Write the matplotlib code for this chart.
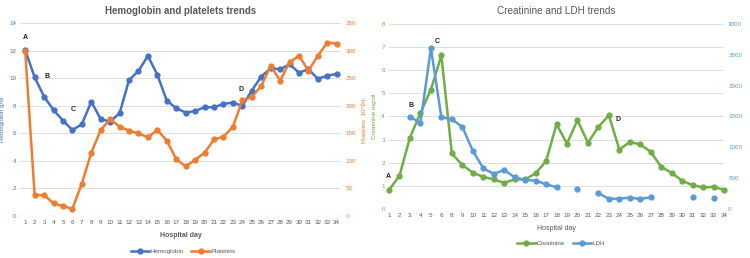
import numpy as np
import matplotlib
matplotlib.use("Agg")
import matplotlib.pyplot as plt
from matplotlib.lines import Line2D

plt.rcParams['font.family'] = ['Liberation Sans', 'DejaVu Sans']

# left chart: hemoglobin / platelets
days_left = [str(d) for d in range(1, 35)]
hemoglobin = [12.05, 10.08, 8.67, 7.7, 6.93, 6.25, 6.66, 8.31, 7.03, 6.86,
              7.46, 9.88, 10.54, 11.63, 10.25, 8.38, 7.83, 7.51, 7.63, 7.9,
              7.9, 8.14, 8.24, 8.0, 9.11, 10.13, 10.73, 10.66, 11.02, 10.41,
              10.66, 9.96, 10.2, 10.32]
platelets = [300, 38, 38, 23, 18, 13, 59, 115, 156, 176,
             162, 155, 150, 143, 156, 137, 103, 90, 102, 115,
             139, 144, 162, 210, 216, 236, 273, 246, 279, 291,
             264, 291, 315, 313]

# right chart: creatinine / LDH (no day 7 on this axis)
days_right = [str(d) for d in range(1, 35) if d != 7]
creatinine = [0.82, 1.44, 3.09, 4.15, 5.16, 6.64, 2.4, 1.9, 1.57, 1.39,
              1.28, 1.13, 1.28, 1.28, 1.54, 2.07, 3.66, 2.83, 3.84, 2.86,
              3.55, 4.05, 2.57, 2.9, 2.79, 2.47, 1.82, 1.56, 1.22, 1.03,
              0.93, 0.96, 0.82]
nan = np.nan
ldh = [nan, nan, 1498, 1391, 2608, 1488, 1456, 1330, 946, 660,
       568, 633, 514, 471, 460, 400, 352, nan, 319, nan,
       254, 167, 167, 184, 162, 190, nan, nan, nan, 200,
       nan, 178, nan]

c_hgb = '#4472C4'
c_plt = '#ED7D31'
c_cre = '#70AD47'
c_ldh = '#5B9BD5'
grid_c = '#D9D9D9'
txt_c = '#595959'

fig = plt.figure(figsize=(7.5, 2.58), dpi=100)


def style_axes(ax, tick_color):
    for s in ax.spines.values():
        s.set_visible(False)
    ax.tick_params(axis='y', length=0, labelsize=4.5, colors=tick_color, pad=3)
    ax.tick_params(axis='x', length=0, labelsize=4.5, colors=txt_c, pad=3)


# ---- left chart ----
ax1 = fig.add_axes([0.0273, 0.1628, 0.428, 0.747])
x1 = np.arange(len(days_left))
ax1.set_ylim(0, 14)
ax1.set_yticks(range(0, 15, 2))
ax1.set_xlim(-0.5, len(days_left) - 0.5)
ax1.set_xticks(x1)
ax1.set_xticklabels(days_left)
ax1.grid(axis='y', color=grid_c, lw=0.6)
ax1.set_axisbelow(True)
style_axes(ax1, c_hgb)
ax1.axhline(0, color=grid_c, lw=0.8)
ax1.set_ylabel('Hemoglobin g/dl', fontsize=4.5, color=c_hgb, labelpad=3)
ax1.set_xlabel('Hospital day', fontsize=5, color=txt_c, fontweight='bold', labelpad=5)
ax1.set_title('Hemoglobin and platelets trends', fontsize=7, color=txt_c,
              fontweight='bold', pad=7)

ax2 = ax1.twinx()
ax2.set_ylim(0, 350)
ax2.set_yticks(range(0, 351, 50))
style_axes(ax2, c_plt)
ax2.set_ylabel('Platelets  10^9/L', fontsize=4.5, color=c_plt, labelpad=4)

ax1.plot(x1, hemoglobin, color=c_hgb, lw=1.8, marker='o', ms=3.5, zorder=3)
ax2.plot(x1, platelets, color=c_plt, lw=1.8, marker='o', ms=3.5, zorder=3)

for lab, xx, yy in [('A', 0, 13.0), ('B', 2.3, 10.1), ('C', 5.1, 7.7), ('D', 22.9, 9.2)]:
    ax1.text(xx, yy, lab, fontsize=5, fontweight='bold', color='#222222',
             ha='center', va='center')

leg1 = [Line2D([], [], color=c_hgb, lw=1.8, marker='o', ms=3.5),
        Line2D([], [], color=c_plt, lw=1.8, marker='o', ms=3.5)]
fig.legend(leg1, ['Hemoglobin', 'Platelets'], loc='center', ncol=2,
           bbox_to_anchor=(0.244, 0.025), frameon=False, fontsize=4.5,
           labelcolor=txt_c, handlelength=3, columnspacing=1.2, handletextpad=0.2)

# ---- right chart ----
ax3 = fig.add_axes([0.5187, 0.19, 0.4467, 0.717])
x3 = np.arange(len(days_right))
ax3.set_ylim(0, 8)
ax3.set_yticks(range(0, 9))
ax3.set_xlim(0, len(days_right) - 1)
ax3.set_xticks(x3)
ax3.set_xticklabels(days_right)
ax3.grid(axis='y', color=grid_c, lw=0.6)
ax3.set_axisbelow(True)
style_axes(ax3, c_cre)
ax3.axhline(0, color=grid_c, lw=0.8)
ax3.set_ylabel('Creatinine mg/dl', fontsize=4.5, color=c_cre, labelpad=3)
ax3.set_xlabel('Hospital day', fontsize=5, color=txt_c, labelpad=5)
ax3.set_title('Creatinine and LDH trends', fontsize=7.2, color=txt_c, pad=7)

ax4 = ax3.twinx()
ax4.set_ylim(0, 3000)
ax4.set_yticks(range(0, 3001, 500))
style_axes(ax4, c_ldh)

ax3.plot(x3, creatinine, color=c_cre, lw=1.8, marker='o', ms=3.5, zorder=3, clip_on=False)
ax4.plot(x3, ldh, color=c_ldh, lw=1.8, marker='o', ms=3.5, zorder=3, clip_on=False)

for lab, xx, yy in [('A', -0.1, 1.42), ('B', 2.07, 4.48), ('C', 4.58, 7.25), ('D', 21.9, 3.88)]:
    ax3.text(xx, yy, lab, fontsize=5, fontweight='bold', color='#222222',
             ha='center', va='center')

leg2 = [Line2D([], [], color=c_cre, lw=1.8, marker='o', ms=3.5),
        Line2D([], [], color=c_ldh, lw=1.8, marker='o', ms=3.5)]
fig.legend(leg2, ['Creatinine', 'LDH'], loc='center', ncol=2,
           bbox_to_anchor=(0.748, 0.055), frameon=False, fontsize=4.5,
           labelcolor=txt_c, handlelength=3, columnspacing=1.2, handletextpad=0.2)

fig.savefig('out.png', dpi=100)
